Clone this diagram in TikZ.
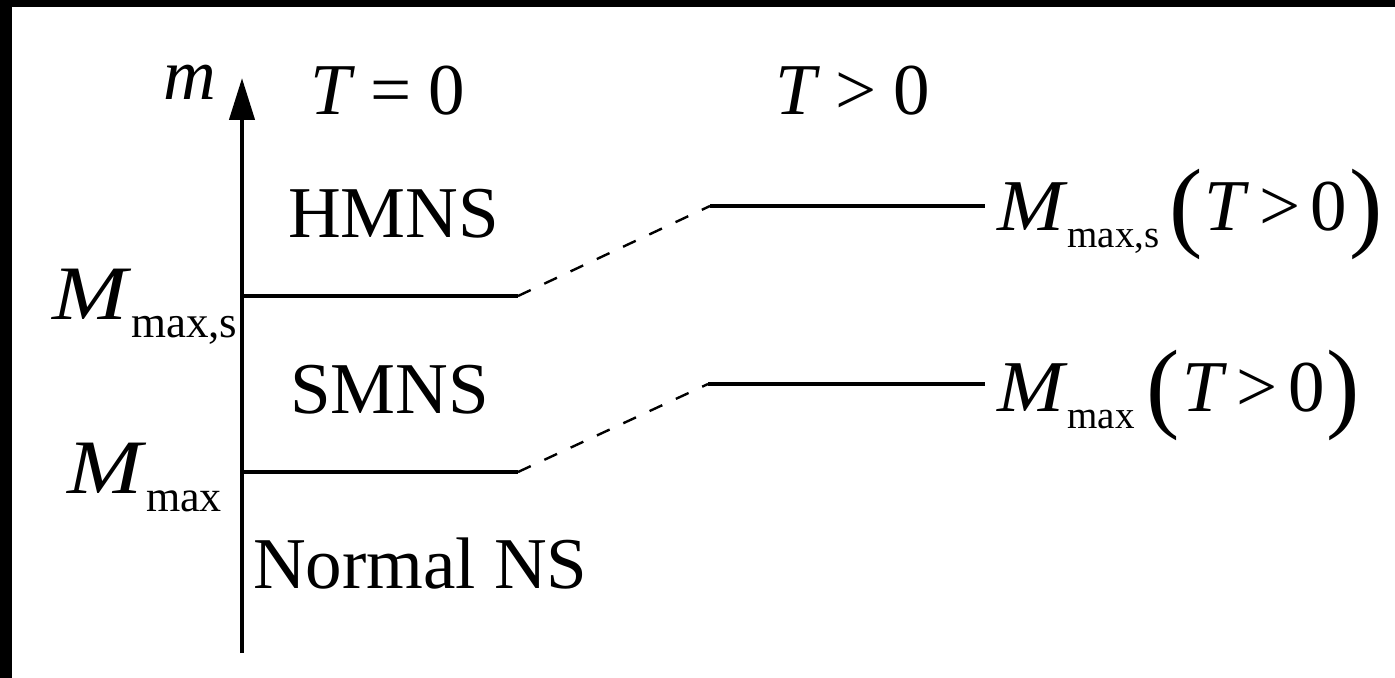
\documentclass[tikz,border=0pt]{standalone}
\usepackage{fontspec}
\setmainfont{Liberation Serif}
\usetikzlibrary{arrows.meta}
\newcommand{\bigfs}{\fontsize{36.5}{40}\selectfont}
\newcommand{\leftfs}{\fontsize{38.5}{42}\selectfont}
\newcommand{\parfs}{\fontsize{50}{55}\selectfont}
% #1 subscript, #2 drop, #3 subscript size, #4 horizontal scale of M
\newcommand{\Mlab}[4]{\scalebox{#4}[1]{\textit{M}}\raisebox{-#2}{\fontsize{#3}{#3}\selectfont #1}}
\newcommand{\Tpos}{\raisebox{-4pt}{\parfs(}\kern1pt\textit{T}\kern5pt>\kern5pt0\kern1pt\raisebox{-4pt}{\parfs)}}
\begin{document}
\begin{tikzpicture}[x=0.5pt,y=-0.5pt,
  txt/.style={inner sep=0pt, outer sep=0pt, font=\bigfs, anchor=base west},
  ltxt/.style={txt, font=\leftfs},
  axisline/.style={line width=2.2pt},
  level/.style={line width=2.2pt},
  link/.style={line width=1.2pt, dash pattern=on 7pt off 7.5pt}]
\useasboundingbox (0,0) rectangle (1395,678);
\fill[black] (0,0) rectangle (1395,7);
\fill[black] (0,0) rectangle (12,678);
% axis
\coordinate (ab) at (242,653);
\coordinate (at) at (242,78);
\draw[axisline, -{Triangle[width=12.5pt,length=21pt]}] (ab) -- (at);
% levels
\coordinate (a1) at (242,296);
\coordinate (a2) at (518,296);
\coordinate (a3) at (710,206);
\coordinate (a4) at (985,206);
\coordinate (b1) at (242,472);
\coordinate (b2) at (518,472);
\coordinate (b3) at (708,384);
\coordinate (b4) at (985,384);
\draw[level] (a1) -- (a2);
\draw[link] (a2) -- (a3);
\draw[level] (a3) -- (a4);
\draw[level] (b1) -- (b2);
\draw[link] (b2) -- (b3);
\draw[level] (b3) -- (b4);
% texts
\node[txt] (m) at (163,100) {\textit{m}};
\node[txt] (t0) at (310,115) {\textit{T}\kern8pt=\kern8pt0};
\node[txt] (tp) at (775,115) {\textit{T}\kern8pt>\kern8pt0};
\node[txt] (hmns) at (288,238) {HMNS};
\node[txt] (smns) at (290,413) {SMNS};
\node[txt] (nns) at (253,588) {Normal NS};
\node[ltxt] (lms) at (52,320) {\Mlab{max,s}{9pt}{22.5pt}{1.17}};
\node[ltxt] (lm) at (67,493) {\Mlab{max}{9pt}{22pt}{1.17}};
\node[txt] (rms) at (997,231) {\Mlab{max,s}{8.5pt}{19.5pt}{1.1}\kern5pt\Tpos};
\node[txt] (rm) at (997,411) {\Mlab{max}{8.5pt}{19.5pt}{1.1}\kern6pt\Tpos};
\end{tikzpicture}
\end{document}
